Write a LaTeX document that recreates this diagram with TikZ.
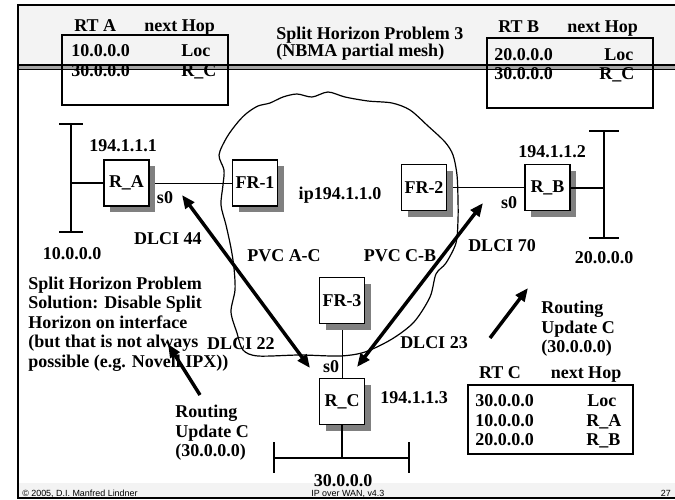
\documentclass[tikz,border=0pt]{standalone}
\usepackage{fontspec}
\setmainfont{Liberation Serif}
\newfontfamily\sansf{Liberation Sans}
\usetikzlibrary{arrows.meta,shadows,backgrounds}
\definecolor{hdr}{HTML}{F3F3F3}
\definecolor{shd}{HTML}{808080}
\begin{document}
\begin{tikzpicture}[x=0.75pt,y=-0.75pt,
  txt/.style={font=\bfseries\fontsize{13.5}{14.6}\selectfont, inner sep=0pt, align=left},
  dev/.style={draw, line width=1.1pt, fill=white, minimum width=33.75pt, minimum height=34.5pt, inner sep=0pt,
    font=\bfseries\fontsize{13.5}{14.6}\selectfont,
    drop shadow={shadow xshift=4.5pt, shadow yshift=-4.5pt, fill=shd, opacity=1}},
  link/.style={line width=0.6pt},
  lan/.style={line width=1.5pt},
  tbl/.style={draw, line width=1.1pt},
  big/.style={line width=2.6pt, {Triangle[length=10pt,width=8pt]}-{Triangle[length=10pt,width=8pt]}},
  upd/.style={line width=2.6pt, -{Triangle[length=10pt,width=8pt]}},
  foot/.style={font=\sansf\fontsize{6.7}{7}\selectfont, inner sep=0pt}
]
\useasboundingbox (0,0) rectangle (675,500);
% slide background
\fill[hdr] (18,5) rectangle (675,65);
\fill[hdr] (18,483) rectangle (675,498);
\fill[shd!70] (18,65) rectangle (675,69.5);
\draw[line width=0.8pt] (18,65) -- (675,65) (18,69.5) -- (675,69.5);
\draw[line width=1.1pt] (675,5) -- (18,5) -- (18,498) -- (675,498);

% cloud
\draw[line width=0.9pt] plot[smooth cycle, tension=0.5] coordinates {
 (247,113) (258,106) (270,103) (283,97) (297,94) (312,97) (328,92) (345,97) (368,101) (392,103)
 (410,110) (428,126) (445,142) (453,155) (457,175) (458,200) (458,220) (456,243) (446,263) (436,274)
 (430,297) (414,322) (392,339) (365,352) (340,356) (300,355) (258,356) (243,350) (237,333) (231,312)
 (235,290) (234,268) (231,248) (226,225) (221,205) (223,185) (224,170) (219,155) (227,137) (238,122)};

% title and routing tables
\node[txt, anchor=base west] (title1) at (276,39) {Split Horizon Problem 3};
\node[txt, anchor=base west] (title2) at (276,56) {(NBMA partial mesh)};

\draw[tbl] (62,35) rectangle (228,105);
\node[txt, anchor=base west] (rtah) at (74,31) {RT A};
\node[txt, anchor=base west] (rtan) at (144,31) {next Hop};
\node[txt, anchor=base west] (rta1) at (71,56) {10.0.0.0};
\node[txt, anchor=base west] (rta1h) at (181,56) {Loc};
\node[txt, anchor=base west] (rta2) at (71,76) {30.0.0.0};
\node[txt, anchor=base west] (rta2h) at (181,76) {R\_C};

\draw[tbl] (487,38) rectangle (653,108);
\node[txt, anchor=base west] (rtbh) at (498,32) {RT B};
\node[txt, anchor=base west] (rtbn) at (567,32) {next Hop};
\node[txt, anchor=base west] (rtb1) at (494,60) {20.0.0.0};
\node[txt, anchor=base west] (rtb1h) at (604,60) {Loc};
\node[txt, anchor=base west] (rtb2) at (494,79) {30.0.0.0};
\node[txt, anchor=base west] (rtb2h) at (599,79) {R\_C};

\draw[tbl] (468,385) rectangle (633,454);
\node[txt, anchor=base] (rtch) at (500,378) {RT C};
\node[txt, anchor=base] (rtcn) at (586,378) {next Hop};
\node[txt, anchor=base west] (rtc1) at (475,406) {30.0.0.0};
\node[txt, anchor=base west] (rtc1h) at (587,406) {Loc};
\node[txt, anchor=base west] (rtc2) at (475,426) {10.0.0.0};
\node[txt, anchor=base west] (rtc2h) at (586,426) {R\_A};
\node[txt, anchor=base west] (rtc3) at (475,445) {20.0.0.0};
\node[txt, anchor=base west] (rtc3h) at (586,445) {R\_B};

% devices
\node[dev] (RA) at (126.5,183) {R\_A};
\node[dev] (FR1) at (255,183) {FR-1};
\node[dev] (FR2) at (424,187.5) {FR-2};
\node[dev] (RB) at (547.5,187.5) {R\_B};
\node[dev] (FR3) at (342,300.5) {FR-3};
\node[dev] (RC) at (342,401.5) {R\_C};

% LANs
\coordinate (lanA) at (71,183);
\draw[lan] (71,124) -- (71,232) (59,124) -- (83,124) (59,232) -- (83,232);
\coordinate (lanB) at (604,187.5);
\draw[lan] (604,131) -- (604,238) (589,131) -- (619,131) (589,238) -- (619,238);
\coordinate (lanC) at (342,458);
\draw[lan] (274,458) -- (409,458) (274,442) -- (274,473) (409,442) -- (409,473);

\begin{scope}[on background layer]
\draw[link] (RA.east) -- (FR1.west);
\draw[link] (FR2.east) -- (RB.west);
\draw[link] (FR3.south) -- (RC.north);
\end{scope}
\draw[lan] (RA.west) -- (lanA);
\draw[lan] (RB.east) -- (lanB);
\draw[lan] (RC.south) -- (lanC);

% labels
\node[txt, anchor=base] (ip1) at (123,151) {194.1.1.1};
\node[txt, anchor=base] (s0a) at (165,203) {s0};
\node[txt, anchor=base] (dl44) at (168,244) {DLCI 44};
\node[txt, anchor=base] (net10) at (72,259) {10.0.0.0};
\node[txt, anchor=base] (pvcac) at (284,261) {PVC A-C};
\node[txt, anchor=base] (ipnet) at (340,199) {ip194.1.1.0};
\node[txt, anchor=base] (ip2) at (552,157) {194.1.1.2};
\node[txt, anchor=base] (s0b) at (509,208) {s0};
\node[txt, anchor=base] (dl70) at (502,251) {DLCI 70};
\node[txt, anchor=base] (pvccb) at (400,261) {PVC C-B};
\node[txt, anchor=base] (net20) at (604,263) {20.0.0.0};
\node[txt, anchor=west] (sol) at (28,324) {Split Horizon Problem\\Solution: Disable Split\\Horizon on interface\\(but that is not always\\possible (e.g. Novell IPX))};
\node[txt, anchor=base] (dl22) at (241,349) {DLCI 22};
\node[txt, anchor=west] (updl) at (175,433) {Routing\\Update C\\(30.0.0.0)};
\node[txt, anchor=west] (updr) at (541,329) {Routing\\Update C\\(30.0.0.0)};
\node[txt, anchor=base] (dl23) at (434,348) {DLCI 23};
\node[txt, anchor=base] (ip3) at (414,403) {194.1.1.3};
\node[txt, anchor=base] (s0c) at (331,372) {s0};
\node[txt, anchor=base] (net30) at (343,486) {30.0.0.0};

% arrows
\coordinate (a1) at (182,195);
\coordinate (a2) at (310,368);
\coordinate (b1) at (357,367);
\coordinate (b2) at (483,203);
\draw[big] (a1) -- (a2);
\draw[big] (b1) -- (b2);
\coordinate (c1) at (200,395);
\coordinate (c2) at (168,344);
\coordinate (d1) at (490,338);
\coordinate (d2) at (528,288);
\draw[upd] (c1) -- (c2);
\draw[upd] (d1) -- (d2);

% footer
\node[foot, anchor=base west] (copy) at (22,496) {© 2005, D.I. Manfred Lindner};
\node[foot, anchor=base west] (course) at (311,496) {IP over WAN, v4.3};
\node[foot, anchor=base east] (page) at (671,496) {27};
\end{tikzpicture}
\end{document}
